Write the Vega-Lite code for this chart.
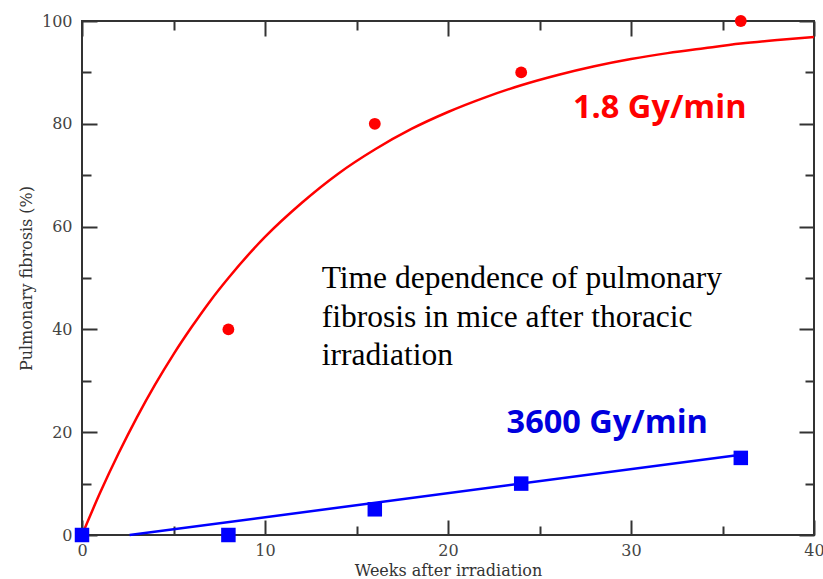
{
  "$schema": "https://vega.github.io/schema/vega-lite/v6.json",
  "width": 732,
  "height": 514,
  "autosize": {"type": "none"},
  "padding": {"left": 82, "top": 21, "right": 9, "bottom": 44},
  "background": "white",
  "config": {
    "view": {"stroke": "#333", "strokeWidth": 2},
    "axis": {"grid": false, "domain": false, "tickColor": "#333", "tickWidth": 2, "labelFlush": false, "labelFont": "DejaVu Serif", "labelFontSize": 16, "labelColor": "#444", "titleFont": "DejaVu Serif", "titleColor": "#333", "titleFontWeight": "normal"}
  },
  "datasets": {
    "redfit": [
      {"t": 0, "v": 0}, {"t": 1, "v": 8.3}, {"t": 2, "v": 15.9}, {"t": 3, "v": 22.9}, {"t": 4, "v": 29.3},
      {"t": 5, "v": 35.15}, {"t": 6, "v": 40.5}, {"t": 7, "v": 45.5}, {"t": 8, "v": 50.0}, {"t": 10, "v": 58.0},
      {"t": 12, "v": 64.6}, {"t": 14, "v": 70.3}, {"t": 16, "v": 75.0}, {"t": 18, "v": 79.0}, {"t": 20, "v": 82.3},
      {"t": 22, "v": 85.1}, {"t": 24, "v": 87.5}, {"t": 26, "v": 89.5}, {"t": 28, "v": 91.2}, {"t": 30, "v": 92.6},
      {"t": 32, "v": 93.75}, {"t": 34, "v": 94.7}, {"t": 36, "v": 95.6}, {"t": 38, "v": 96.3}, {"t": 40, "v": 96.9}
    ],
    "redpts": [{"t": 8, "v": 40}, {"t": 16, "v": 80}, {"t": 24, "v": 90}, {"t": 36, "v": 100}],
    "bluefit": [{"t": 2.6, "v": 0}, {"t": 36, "v": 15.6}],
    "bluepts": [{"t": 0, "v": 0}, {"t": 8, "v": 0}, {"t": 16, "v": 5}, {"t": 24, "v": 10}, {"t": 36, "v": 15}],
    "notes": [
      {"t": 26.83, "v": 81.1, "label": "1.8 Gy/min", "grp": "red"},
      {"t": 23.2, "v": 19.8, "label": "3600 Gy/min", "grp": "blue"}
    ],
    "caption": [
      {"t": 13.1, "v": 48.05, "label": "Time dependence of pulmonary"},
      {"t": 13.1, "v": 40.47, "label": "fibrosis in mice after thoracic"},
      {"t": 13.1, "v": 33.07, "label": "irradiation"}
    ]
  },
  "resolve": {"axis": {"x": "independent", "y": "independent"}},
  "layer": [
    {
      "data": {"name": "redfit"},
      "mark": {"type": "line", "color": "#ff0000", "strokeWidth": 2.5, "interpolate": "monotone"},
      "encoding": {
        "x": {"field": "t", "type": "quantitative", "scale": {"domain": [0, 40], "nice": false},
              "axis": {"orient": "bottom", "values": [0, 10, 20, 30, 40], "offset": -15, "tickSize": 15, "labelPadding": 7, "title": "Weeks after irradiation", "titleFontSize": 16, "titlePadding": 4}},
        "y": {"field": "v", "type": "quantitative", "scale": {"domain": [0, 100], "nice": false},
              "axis": {"orient": "left", "values": [0, 20, 40, 60, 80, 100], "offset": -15, "tickSize": 15, "labelPadding": 10, "title": "Pulmonary fibrosis (%)", "titleFontSize": 16, "titlePadding": 7}}
      }
    },
    {
      "data": {"name": "redpts"},
      "mark": {"type": "point", "shape": "circle", "filled": true, "color": "#ff0000", "size": 140, "opacity": 1},
      "encoding": {
        "x": {"field": "t", "type": "quantitative", "axis": {"orient": "bottom", "values": [5, 15, 25, 35], "offset": -9, "tickSize": 9, "labels": false, "title": null}},
        "y": {"field": "v", "type": "quantitative", "axis": {"orient": "left", "values": [10, 30, 50, 70, 90], "offset": -9, "tickSize": 9, "labels": false, "title": null}}
      }
    },
    {
      "data": {"name": "bluefit"},
      "mark": {"type": "line", "color": "#0000ff", "strokeWidth": 2.5},
      "encoding": {
        "x": {"field": "t", "type": "quantitative", "axis": {"orient": "top", "values": [0, 10, 20, 30, 40], "offset": -15, "tickSize": 15, "labels": false, "title": null}},
        "y": {"field": "v", "type": "quantitative", "axis": {"orient": "right", "values": [0, 20, 40, 60, 80, 100], "offset": -15, "tickSize": 15, "labels": false, "title": null}}
      }
    },
    {
      "data": {"name": "bluepts"},
      "mark": {"type": "point", "shape": "square", "filled": true, "color": "#0000ff", "size": 210, "opacity": 1},
      "encoding": {
        "x": {"field": "t", "type": "quantitative", "axis": {"orient": "top", "values": [5, 15, 25, 35], "offset": -9, "tickSize": 9, "labels": false, "title": null}},
        "y": {"field": "v", "type": "quantitative", "axis": {"orient": "right", "values": [10, 30, 50, 70, 90], "offset": -9, "tickSize": 9, "labels": false, "title": null}}
      }
    },
    {
      "data": {"name": "notes"},
      "mark": {"type": "text", "align": "left", "baseline": "alphabetic", "font": "Open Sans", "fontWeight": "bold", "fontSize": 32.5},
      "encoding": {
        "x": {"field": "t", "type": "quantitative", "axis": null},
        "y": {"field": "v", "type": "quantitative", "axis": null},
        "text": {"field": "label"},
        "color": {"field": "grp", "type": "nominal", "scale": {"domain": ["red", "blue"], "range": ["#ff0000", "#0000dd"]}, "legend": null}
      }
    },
    {
      "data": {"name": "caption"},
      "mark": {"type": "text", "align": "left", "baseline": "alphabetic", "font": "Liberation Serif", "fontSize": 31.5, "color": "#000"},
      "encoding": {
        "x": {"field": "t", "type": "quantitative", "axis": null},
        "y": {"field": "v", "type": "quantitative", "axis": null},
        "text": {"field": "label"}
      }
    }
  ]
}
